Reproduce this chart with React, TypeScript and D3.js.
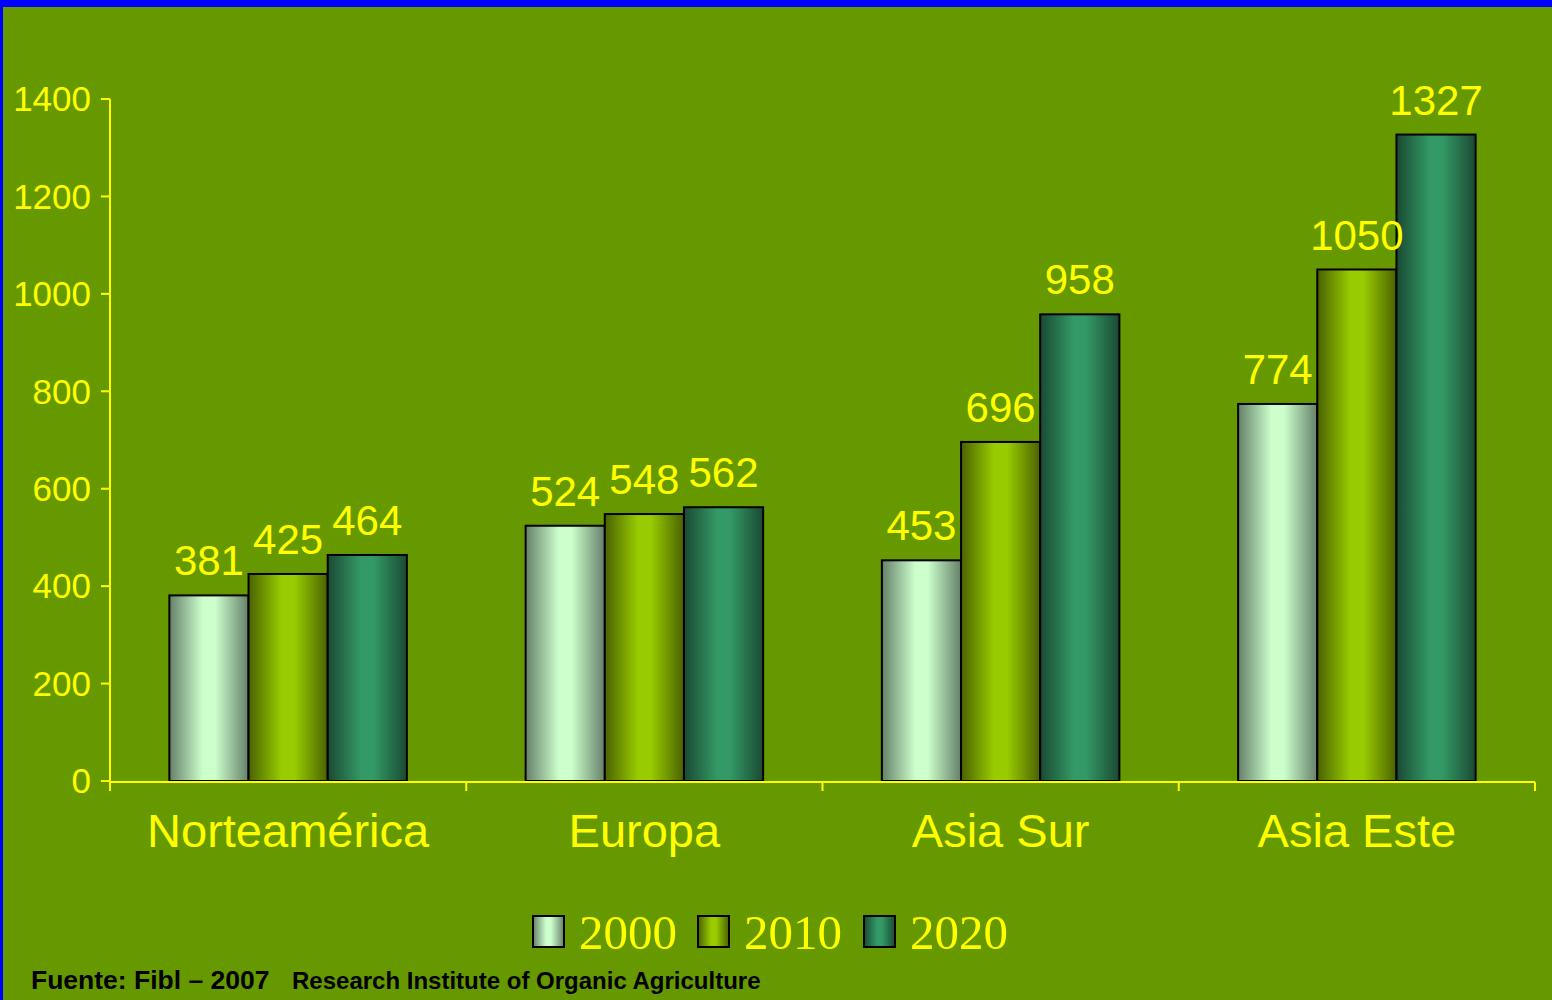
import React from "react";
import * as d3 from "d3";

const categories = ["Norteamérica", "Europa", "Asia Sur", "Asia Este"];
const seriesNames = ["2000", "2010", "2020"];
const values2000 = [381, 524, 453, 774];
const values2010 = [425, 548, 696, 1050];
const values2020 = [464, 562, 958, 1327];
const yTicks = [0, 200, 400, 600, 800, 1000, 1200, 1400];

const W = 1552;
const H = 1000;
const left = 110;
const right = 1535;
const top = 99;
const bottom = 781;

const gradients = [
  { id: "g2000", edge: "#65806a", mid: "#ccffcc" },
  { id: "g2010", edge: "#4a6200", mid: "#99cc00" },
  { id: "g2020", edge: "#1a4a33", mid: "#339966" },
];

export default function App() {
  const series = [values2000, values2010, values2020];
  const x = d3.scaleBand<string>().domain(categories).range([left, right]).paddingInner(0).paddingOuter(0);
  const inner = d3
    .scaleBand<string>()
    .domain(seriesNames)
    .range([0, x.bandwidth()])
    .paddingOuter(0.75)
    .paddingInner(0);
  const y = d3.scaleLinear().domain([0, 1400]).range([bottom, top]);
  const boundaries = [...categories.map((c) => x(c) as number), right];

  const legendX = [533, 698, 864];

  return (
    <svg width={W} height={H} style={{ position: "absolute", left: 0, top: 0 }}>
      <defs>
        {gradients.map((g) => (
          <linearGradient key={g.id} id={g.id} x1="0" x2="1" y1="0" y2="0">
            <stop offset="0%" stopColor={g.edge} />
            <stop offset="42%" stopColor={g.mid} />
            <stop offset="58%" stopColor={g.mid} />
            <stop offset="100%" stopColor={g.edge} />
          </linearGradient>
        ))}
      </defs>
      <rect x={0} y={0} width={W} height={H} fill="#0000ff" />
      <rect x={3} y={7} width={W - 3} height={H - 7} fill="#669900" />

      {categories.map((c, ci) =>
        series.map((vals, si) => {
          const bx = (x(c) as number) + (inner(seriesNames[si]) as number);
          const bw = inner.bandwidth();
          return (
            <rect
              key={c + si}
              x={bx}
              y={y(vals[ci])}
              width={bw}
              height={bottom - y(vals[ci])}
              fill={`url(#${gradients[si].id})`}
              stroke="#000"
              strokeWidth={2}
            />
          );
        })
      )}

      {categories.map((c, ci) =>
        series.map((vals, si) => {
          const bx = (x(c) as number) + (inner(seriesNames[si]) as number) + inner.bandwidth() / 2;
          return (
            <text
              key={"l" + c + si}
              x={bx}
              y={y(vals[ci]) - 20}
              textAnchor="middle"
              fontFamily="Liberation Sans, Arial, sans-serif"
              fontSize={42}
              fill="#ffff00"
            >
              {vals[ci]}
            </text>
          );
        })
      )}

      <line x1={left} x2={left} y1={top} y2={bottom} stroke="#ffff00" strokeWidth={2} />
      {yTicks.map((t) => (
        <g key={t}>
          <line x1={left - 9} x2={left} y1={y(t)} y2={y(t)} stroke="#ffff00" strokeWidth={2} />
          <text
            x={91}
            y={y(t)}
            dy="0.35em"
            textAnchor="end"
            fontFamily="Liberation Sans, Arial, sans-serif"
            fontSize={35}
            fill="#ffff00"
          >
            {t}
          </text>
        </g>
      ))}

      <line x1={left} x2={right} y1={bottom + 1} y2={bottom + 1} stroke="#ffff00" strokeWidth={2} />
      {boundaries.map((b, i) => (
        <line key={i} x1={b} x2={b} y1={bottom + 1} y2={bottom + 10} stroke="#ffff00" strokeWidth={2} />
      ))}
      {categories.map((c) => (
        <text
          key={c}
          x={(x(c) as number) + x.bandwidth() / 2}
          y={847}
          textAnchor="middle"
          fontFamily="Liberation Sans, Arial, sans-serif"
          fontSize={47}
          fill="#ffff00"
        >
          {c}
        </text>
      ))}

      {seriesNames.map((s, i) => (
        <g key={s}>
          <rect
            x={legendX[i]}
            y={916}
            width={31}
            height={31}
            fill={`url(#${gradients[i].id})`}
            stroke="#000"
            strokeWidth={2}
          />
          <text
            x={legendX[i] + 46}
            y={949}
            fontFamily="Liberation Serif, Times New Roman, serif"
            fontSize={49}
            fill="#ffff00"
          >
            {s}
          </text>
        </g>
      ))}

      <text x={31} y={989} fontFamily="Liberation Sans, Arial, sans-serif" fontWeight="bold" fontSize={26.5} fill="#000">
        Fuente: Fibl – 2007
      </text>
      <text x={292} y={989} fontFamily="Liberation Sans, Arial, sans-serif" fontWeight="bold" fontSize={24} fill="#000">
        Research Institute of Organic Agriculture
      </text>
    </svg>
  );
}
